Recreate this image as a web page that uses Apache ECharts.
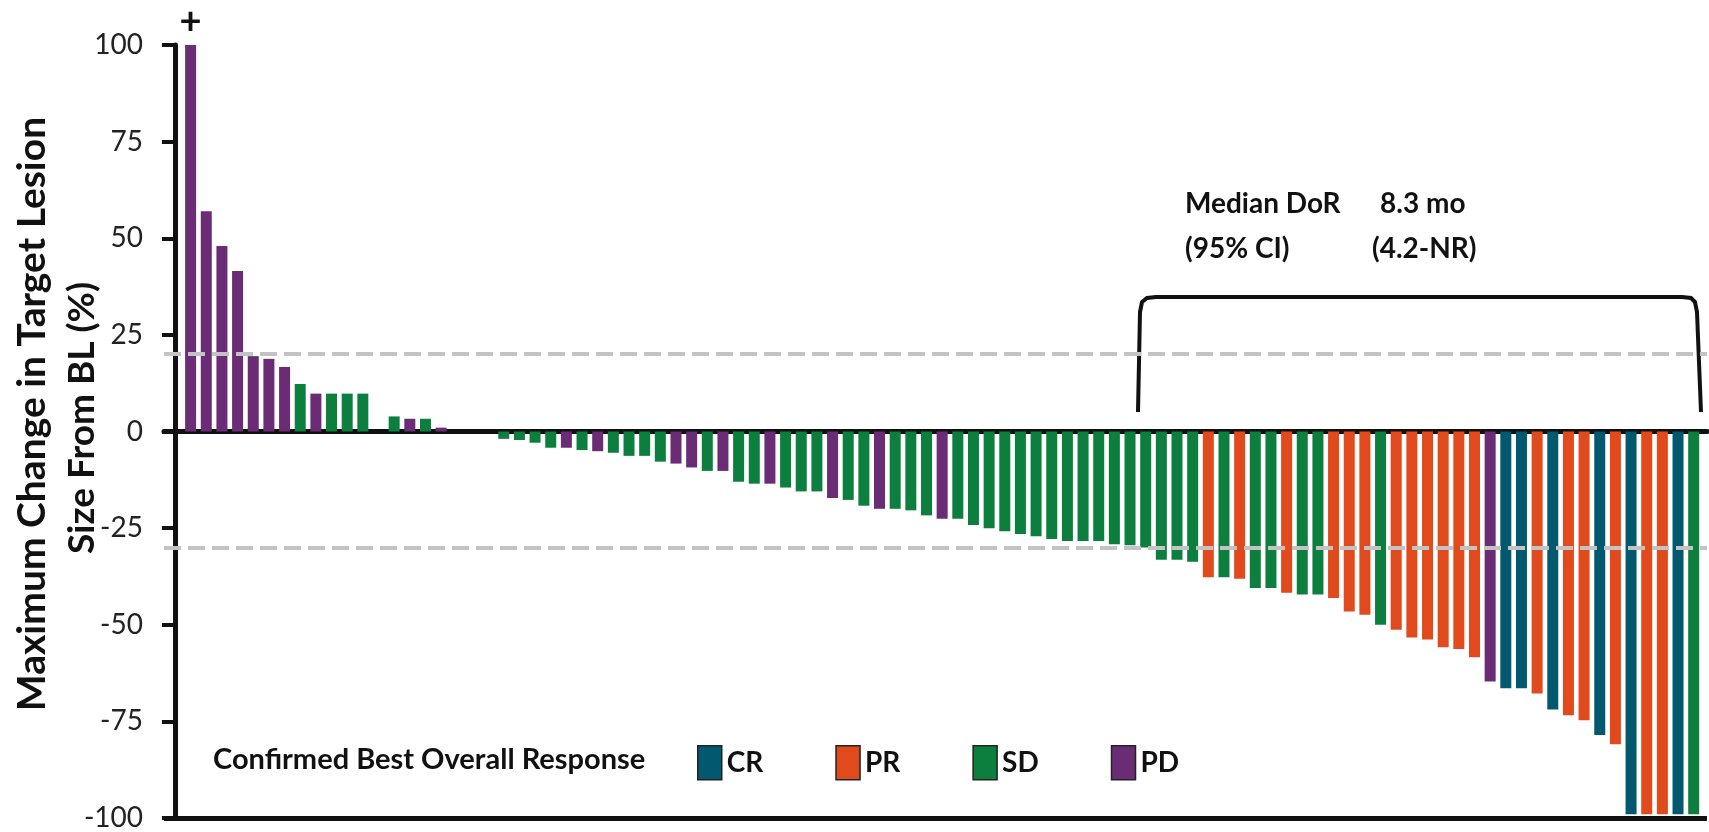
<!DOCTYPE html>
<html>
<head>
<meta charset="utf-8">
<script src="https://cdn.jsdelivr.net/npm/echarts@6/dist/echarts.min.js"></script>
<style>
html, body { margin: 0; padding: 0; background: #fff; }
#chart { width: 1709px; height: 832px; }
</style>
</head>
<body>
<div id="chart"></div>
<script>
// max change in target lesion size from baseline (%), one per patient, in plot order
const changes = [
  100, 57, 48, 41.5, 19.5, 18.8, 16.7, 12.3, 9.8, 9.8, 9.8, 9.8, 0, 3.9, 3.3, 3.3, 1,
  0, 0, 0, -1.9, -2.2, -2.9, -4.2, -4.2, -4.8, -5.1, -5.5, -6.3, -6.3, -7.8, -8.3, -9.3,
  -10.2, -10.2, -13, -13.5, -13.5, -14.5, -15.5, -15.5, -17.2, -17.7, -19.2, -20, -20,
  -20.4, -21.7, -22.6, -22.6, -24.2, -25, -25.8, -26.5, -27.1, -27.8, -28.3, -28.3, -28.3,
  -29.2, -29.4, -30, -33.2, -33.2, -33.7, -37.7, -37.7, -38.1, -40.5, -40.5, -41.7, -42.2,
  -42.2, -43.1, -46.6, -47.4, -50, -51.3, -53.3, -53.8, -55.8, -56.3, -58.4, -64.7, -66.4,
  -66.4, -67.8, -71.9, -73.4, -74.7, -78.5, -80.9, -99, -99, -99, -99, -99
];
// confirmed best overall response for each patient
const responses = [
  'PD', 'PD', 'PD', 'PD', 'PD', 'PD', 'PD', 'SD', 'PD', 'SD', 'SD', 'SD', 'SD', 'SD', 'PD', 'SD', 'PD',
  'SD', 'SD', 'SD', 'SD', 'SD', 'SD', 'SD', 'PD', 'SD', 'PD', 'SD', 'SD', 'SD', 'SD', 'PD', 'PD',
  'SD', 'PD', 'SD', 'SD', 'PD', 'SD', 'SD', 'SD', 'PD', 'SD', 'SD', 'PD', 'SD',
  'SD', 'SD', 'PD', 'SD', 'SD', 'SD', 'SD', 'SD', 'SD', 'SD', 'SD', 'SD', 'SD',
  'SD', 'SD', 'SD', 'SD', 'SD', 'SD', 'PR', 'SD', 'PR', 'SD', 'SD', 'PR', 'SD',
  'SD', 'PR', 'PR', 'PR', 'SD', 'PR', 'PR', 'PR', 'PR', 'PR', 'PR', 'PD', 'CR',
  'CR', 'PR', 'CR', 'PR', 'PR', 'CR', 'PR', 'CR', 'PR', 'PR', 'CR', 'SD'
];
const responseTypes = ['CR', 'PR', 'SD', 'PD'];
const responseColors = ['#02596f', '#e04a1d', '#0c7f3e', '#6a2c74'];
const thresholds = [20, -30];
const yMin = -100, yMax = 100, yStep = 25;

const font = 'Lato, "Open Sans", sans-serif';
const chart = echarts.init(document.getElementById('chart'));

const series = responseTypes.map((type, k) => ({
  name: type,
  type: 'bar',
  barWidth: 11,
  barGap: '-100%',
  itemStyle: { color: responseColors[k] },
  data: changes
    .map((v, i) => {
      if (responses[i] !== type) return null;
      // first patient carries a '+' mark
      if (i === 0) {
        return {
          value: [i + 1, v],
          label: { show: true, position: 'top', distance: 4, formatter: '+',
                   fontSize: 38, fontWeight: 'bold', color: '#111', fontFamily: font }
        };
      }
      return [i + 1, v];
    })
    .filter(d => d)
}));

series[0].markLine = {
  silent: true,
  symbol: 'none',
  label: { show: false },
  data: [
    ...thresholds.map(t => ({ yAxis: t, lineStyle: { color: '#c3c3c3', width: 4, type: [17, 7] } })),
    { yAxis: yMin, lineStyle: { color: '#111', width: 5, type: 'solid' } }
  ]
};

const option = {
  animation: false,
  grid: { left: 164, right: 2, top: 45, bottom: 12 },
  xAxis: {
    type: 'value',
    min: -0.7,
    max: 97.85,
    axisLine: { show: true, onZero: true, lineStyle: { color: '#111', width: 5 } },
    axisTick: { show: false },
    axisLabel: { show: false },
    splitLine: { show: false }
  },
  yAxis: {
    type: 'value',
    min: yMin,
    max: yMax,
    interval: yStep,
    axisLine: { show: true, lineStyle: { color: '#111', width: 5 } },
    axisTick: { show: true, length: 13, lineStyle: { color: '#111', width: 4 } },
    axisLabel: { fontSize: 28, color: '#222', margin: 21, fontFamily: font },
    splitLine: { show: false }
  },
  legend: {
    data: responseTypes,
    left: 692,
    top: 740,
    icon: 'rect',
    itemWidth: 24,
    itemHeight: 34,
    itemGap: 72,
    itemStyle: { borderColor: '#222', borderWidth: 1.5 },
    textStyle: { fontSize: 28, fontWeight: 'bold', color: '#111', fontFamily: font }
  },
  graphic: [
    {
      type: 'text', x: 32, y: 414, rotation: Math.PI / 2,
      style: { text: 'Maximum Change in Target Lesion', fill: '#111', font: 'bold 39px ' + font,
               align: 'center', verticalAlign: 'middle' }
    },
    {
      type: 'text', x: 82, y: 418, rotation: Math.PI / 2,
      style: { text: 'Size From BL (%)', fill: '#111', font: 'bold 37px ' + font,
               align: 'center', verticalAlign: 'middle' }
    },
    {
      type: 'text', x: 213, y: 760,
      style: { text: 'Confirmed Best Overall Response', fill: '#111', font: 'bold 29px ' + font,
               verticalAlign: 'middle' }
    },
    {
      type: 'text', x: 1185, y: 204,
      style: { text: 'Median DoR', fill: '#111', font: 'bold 28px ' + font, verticalAlign: 'middle' }
    },
    {
      type: 'text', x: 1380, y: 204,
      style: { text: '8.3 mo', fill: '#111', font: 'bold 28px ' + font, verticalAlign: 'middle' }
    },
    {
      type: 'text', x: 1185, y: 249,
      style: { text: '(95% CI)', fill: '#111', font: 'bold 28px ' + font, verticalAlign: 'middle' }
    },
    {
      type: 'text', x: 1372, y: 249,
      style: { text: '(4.2-NR)', fill: '#111', font: 'bold 28px ' + font, verticalAlign: 'middle' }
    },
    {
      // bracket over the responders
      type: 'polyline',
      shape: { points: [[1138, 412], [1140, 312], [1142, 302], [1147, 298], [1156, 297],
                        [1682, 297], [1691, 298], [1695, 302], [1697, 312], [1701, 412]] },
      style: { stroke: '#111', lineWidth: 4, fill: null }
    }
  ],
  series: series
};

chart.setOption(option);
</script>
</body>
</html>
